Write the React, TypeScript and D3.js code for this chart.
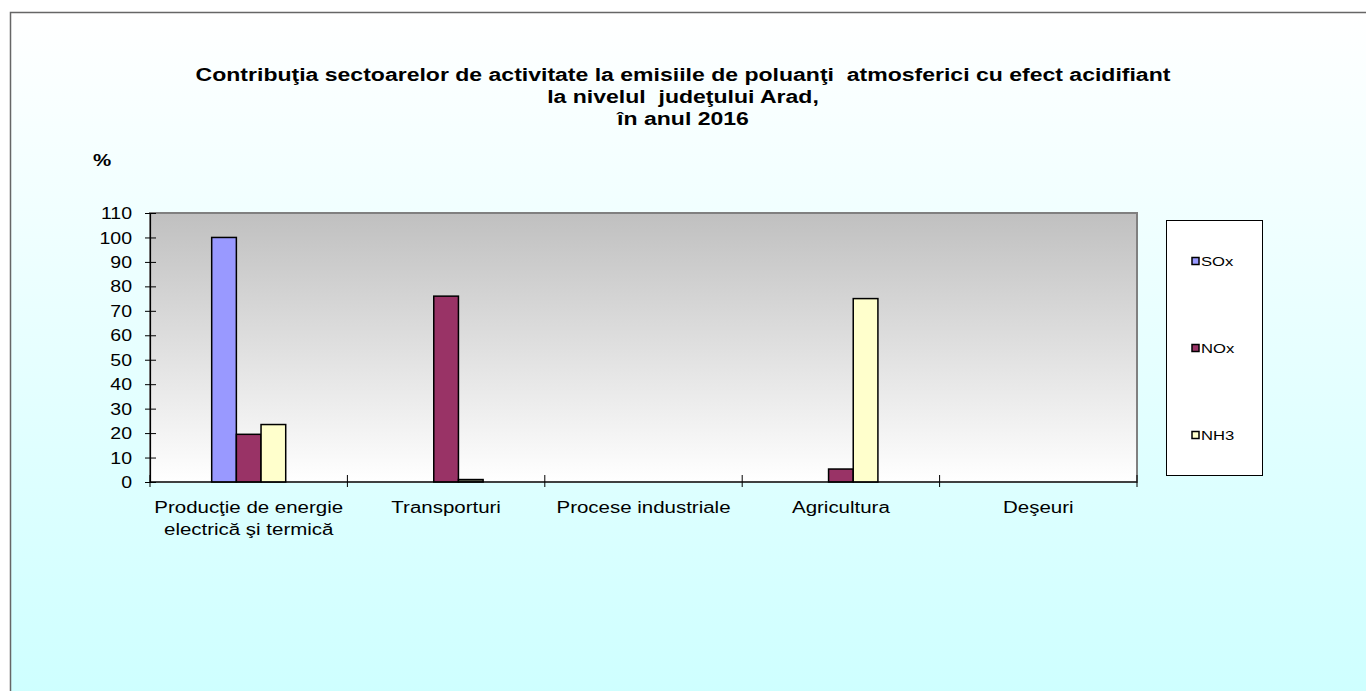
import { useEffect, useRef } from "react";
import * as d3 from "d3";

const categories = [
    ["Producţie de energie", "electrică şi termică"],
    ["Transporturi"],
    ["Procese industriale"],
    ["Agricultura"],
    ["Deşeuri"],
];
const seriesNames = ["SOx", "NOx", "NH3"];
const soxValues = [100, 0, 0, 0, 0];
const noxValues = [19.5, 76, 0, 5.3, 0];
const nh3Values = [23.5, 1, 0, 75, 0];
const yTicks = [0, 10, 20, 30, 40, 50, 60, 70, 80, 90, 100, 110];
const titleLines = [
    "Contribuţia sectoarelor de activitate la emisiile de poluanţi  atmosferici cu efect acidifiant",
    "la nivelul  judeţului Arad,",
    "în anul 2016",
];

const seriesColors = ["#9999ff", "#993366", "#ffffcc"];

function App() {
    const svgRef = useRef<SVGSVGElement>(null);

    useEffect(() => {
        const svgEl = svgRef.current;
        if (!svgEl) return;
        const width = 1366;
        const height = 691;
        const plot = { left: 150, right: 1137, top: 213, bottom: 482 };
        const font = "Arial, 'Liberation Sans', sans-serif";
        const sx = 1.28; // text in the picture is stretched horizontally

        d3.select(svgEl).selectAll("*").remove();
        const svg = d3.select(svgEl)
            .attr("width", width)
            .attr("height", height)
            .style("font-family", font);

        const defs = svg.append("defs");
        const bg = defs.append("linearGradient").attr("id", "bgGrad")
            .attr("x1", 0).attr("y1", 0).attr("x2", 0).attr("y2", 1);
        bg.append("stop").attr("offset", "0%").attr("stop-color", "#ffffff");
        bg.append("stop").attr("offset", "100%").attr("stop-color", "#ccffff");
        const pg = defs.append("linearGradient").attr("id", "plotGrad")
            .attr("x1", 0).attr("y1", 0).attr("x2", 0).attr("y2", 1);
        pg.append("stop").attr("offset", "0%").attr("stop-color", "#c0c0c0");
        pg.append("stop").attr("offset", "100%").attr("stop-color", "#ffffff");

        // Background frame
        svg.append("rect")
            .attr("x", 10.5).attr("y", 12.5)
            .attr("width", width + 20).attr("height", height + 20)
            .attr("fill", "url(#bgGrad)")
            .attr("stroke", "#666").attr("stroke-width", 1.5);

        // Title
        svg.append("g").selectAll("text")
            .data(titleLines)
            .join("text")
            .attr("transform", (_, i) => `translate(683,${81 + i * 22}) scale(${sx},1)`)
            .attr("text-anchor", "middle")
            .attr("font-size", "18px")
            .attr("font-weight", "bold")
            .style("white-space", "pre")
            .text(d => d);

        svg.append("text")
            .attr("transform", `translate(93,166) scale(${sx},1)`)
            .attr("font-size", "16px")
            .attr("font-weight", "bold")
            .text("%");

        const x0 = d3.scaleBand<number>()
            .domain(d3.range(categories.length))
            .range([plot.left, plot.right]);
        const groupWidth = x0.bandwidth() * 0.375;
        const x1 = d3.scaleBand<number>()
            .domain(d3.range(seriesNames.length))
            .range([0, groupWidth]);
        const y = d3.scaleLinear().domain([0, 110]).range([plot.bottom, plot.top]);

        // Plot area
        svg.append("rect")
            .attr("x", plot.left).attr("y", plot.top)
            .attr("width", plot.right - plot.left).attr("height", plot.bottom - plot.top)
            .attr("fill", "url(#plotGrad)")
            .attr("stroke", "#808080").attr("stroke-width", 2);

        // Bars
        const allSeries = [soxValues, noxValues, nh3Values];
        allSeries.forEach((vals, si) => {
            svg.append("g")
                .selectAll("rect")
                .data(vals.map((v, ci) => ({ v, ci })).filter(d => d.v > 0))
                .join("rect")
                .attr("x", d => (x0(d.ci) as number) + (x0.bandwidth() - groupWidth) / 2 + (x1(si) as number))
                .attr("y", d => y(d.v))
                .attr("width", x1.bandwidth())
                .attr("height", d => y(0) - y(d.v))
                .attr("fill", d => (y(0) - y(d.v) < 4 ? "#666655" : seriesColors[si]))
                .attr("stroke", "#000")
                .attr("stroke-width", 1.5);
        });

        // Y axis
        const yAxis = svg.append("g")
            .attr("transform", `translate(${plot.left},0)`)
            .call(d3.axisLeft(y).tickValues(yTicks).tickSize(6).tickSizeOuter(0));
        yAxis.select(".domain").attr("stroke", "#000").attr("stroke-width", 1.2);
        yAxis.selectAll(".tick line").attr("stroke", "#000").attr("x1", -5).attr("x2", 6);
        yAxis.selectAll(".tick text")
            .attr("font-size", "16px")
            .attr("font-family", font)
            .attr("fill", "#000")
            .attr("x", 0)
            .attr("dy", "0.35em")
            .attr("transform", `translate(-18,0) scale(1.22,1)`);

        // X axis
        svg.append("line")
            .attr("x1", plot.left).attr("x2", plot.right)
            .attr("y1", plot.bottom).attr("y2", plot.bottom)
            .attr("stroke", "#000").attr("stroke-width", 1.2);
        svg.append("g").selectAll("line")
            .data(d3.range(categories.length + 1))
            .join("line")
            .attr("x1", d => plot.left + d * x0.step())
            .attr("x2", d => plot.left + d * x0.step())
            .attr("y1", plot.bottom - 7)
            .attr("y2", plot.bottom + 5)
            .attr("stroke", "#000");

        const catG = svg.append("g").selectAll("text")
            .data(categories)
            .join("text")
            .attr("transform", (_, i) => `translate(${(x0(i) as number) + x0.bandwidth() / 2},513) scale(${sx},1)`)
            .attr("text-anchor", "middle")
            .attr("font-size", "16px")
            .attr("fill", "#000");
        catG.selectAll("tspan")
            .data(d => d)
            .join("tspan")
            .attr("x", 0)
            .attr("y", (_, j) => j * 22)
            .text(d => d);

        // Legend
        svg.append("rect")
            .attr("x", 1166.5).attr("y", 220.5)
            .attr("width", 96).attr("height", 255)
            .attr("fill", "#fff")
            .attr("stroke", "#000").attr("stroke-width", 1);
        const leg = svg.append("g").selectAll("g")
            .data(seriesNames)
            .join("g")
            .attr("transform", (_, i) => `translate(1192,${261 + i * 87})`);
        leg.append("rect")
            .attr("x", 0).attr("y", -3.5)
            .attr("width", 7).attr("height", 7)
            .attr("fill", (_, i) => seriesColors[i])
            .attr("stroke", "#000").attr("stroke-width", 1.5);
        leg.append("text")
            .attr("transform", `translate(9,5) scale(${sx},1)`)
            .attr("font-size", "13px")
            .text(d => d);
    }, []);

    return (
        <div style={{ position: "absolute", left: 0, top: 0, width: 1366, height: 691, overflow: "hidden" }}>
            <svg ref={svgRef} />
        </div>
    );
}

export default App;
